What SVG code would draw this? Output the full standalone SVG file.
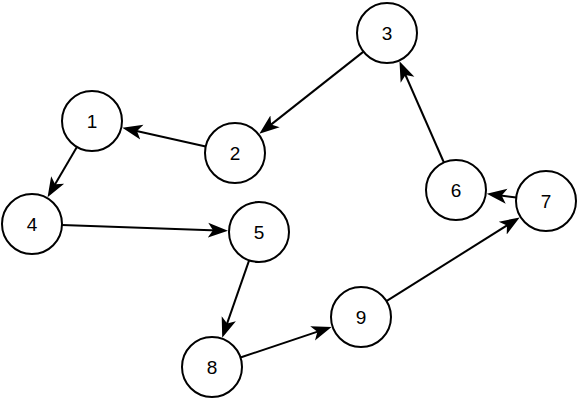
<svg xmlns="http://www.w3.org/2000/svg" width="580" height="400" viewBox="0 0 580 400">
<style>
.node circle{fill:#fff;stroke:#000;stroke-width:2}
.node text{font-family:"Liberation Sans",Arial,sans-serif;font-size:19px;text-anchor:middle;fill:#000}
.edges path{fill:none;stroke:#000;stroke-width:2;marker-end:url(#arr)}
</style>
<defs>
<marker id="arr" markerUnits="userSpaceOnUse" markerWidth="22" markerHeight="18" viewBox="0 0 22 18" refX="10" refY="9" orient="auto">
<path d="M0,1.5 L20,9 L0,16.5 L5,9 Z" fill="#000"/>
</marker>
</defs>
<rect width="580" height="400" fill="#fff"/>
<g class="edges">
<path d="M205.7,146.5 L132.1,130"/>
<path d="M363.5,51.6 L267.2,127.6"/>
<path d="M76.9,146.9 L52.6,188.6"/>
<path d="M62,225.1 L218,230.5"/>
<path d="M249.1,260.3 L225.5,328.2"/>
<path d="M240.4,357.5 L322.1,330.1"/>
<path d="M386.4,301.1 L511.2,222.8"/>
<path d="M516.2,197.4 L496.7,195"/>
<path d="M443.9,162.5 L403.5,70.5"/>
</g>
<g id="n1" class="node"><circle cx="92" cy="121" r="30"/><text x="92" y="128">1</text></g>
<g id="n2" class="node"><circle cx="235" cy="153" r="30"/><text x="235" y="160">2</text></g>
<g id="n3" class="node"><circle cx="387" cy="33" r="30"/><text x="387" y="40">3</text></g>
<g id="n4" class="node"><circle cx="32" cy="224" r="30"/><text x="32" y="231">4</text></g>
<g id="n5" class="node"><circle cx="259" cy="232" r="30"/><text x="259" y="239">5</text></g>
<g id="n6" class="node"><circle cx="456" cy="190" r="30"/><text x="456" y="197">6</text></g>
<g id="n7" class="node"><circle cx="546" cy="201" r="30"/><text x="546" y="208">7</text></g>
<g id="n8" class="node"><circle cx="212" cy="367" r="30"/><text x="212" y="374">8</text></g>
<g id="n9" class="node"><circle cx="361" cy="317" r="30"/><text x="361" y="324">9</text></g>
</svg>
